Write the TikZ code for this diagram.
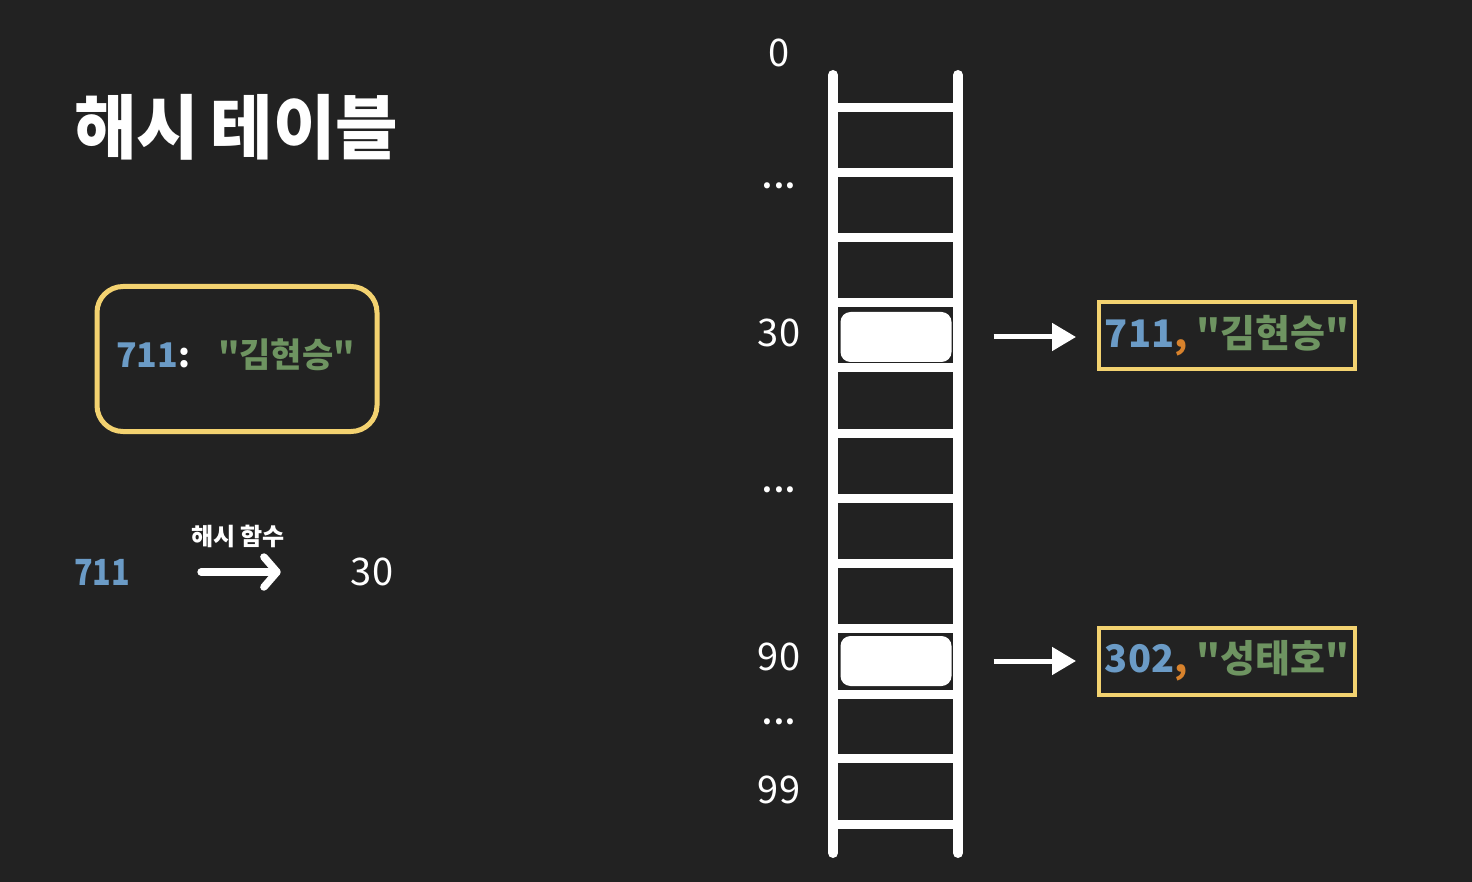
\documentclass[tikz,border=0pt]{standalone}
\usepackage{fontspec}
\setmainfont{Noto Sans CJK KR}[Ligatures=TeXOff]
\usetikzlibrary{arrows.meta}
\definecolor{bg}{HTML}{222222}
\definecolor{kblue}{HTML}{6B9BC6}
\definecolor{kgreen}{HTML}{6E9461}
\definecolor{korange}{HTML}{D8822C}
\definecolor{kyellow}{HTML}{F3D270}
\tikzset{
  lbl/.style={text=white, font=\fontsize{38}{40}\selectfont, inner sep=0pt, anchor=center},
  dots/.style={text=white, font=\bfseries\fontsize{28}{30}\selectfont, inner sep=0pt, anchor=center},
  rail/.style={white, line width=10pt, line cap=round},
  rung/.style={white, line width=9pt},
  slot/.style={fill=white, rounded corners=10pt, minimum width=111pt, minimum height=50pt, inner sep=0pt},
  entry/.style={draw=kyellow, line width=4pt, minimum width=256pt, minimum height=67pt, inner sep=0pt, font=\bfseries\fontsize{38}{40}\selectfont},
  ptr/.style={white, line width=5pt, -{Triangle[length=24pt,width=27pt]}},
}
\begin{document}
\begin{tikzpicture}[x=1pt,y=-1pt]
\fill[bg] (0,0) rectangle (1472,882);
\useasboundingbox (0,0) rectangle (1472,882);
% title
\node[text=white, font=\bfseries\fontsize{70}{74}\selectfont, inner sep=0pt, anchor=west, xscale=0.97] (title) at (74,127) {해시\hspace{-4pt} 테이블};
% key-value box
\node[draw=kyellow, line width=5pt, rounded corners=26pt, minimum width=280pt, minimum height=145pt, inner sep=0pt] (kv) at (237,359) {};
\node[inner sep=0pt, anchor=west, font=\bfseries\fontsize{34}{36}\selectfont] (kvt) at (116,355) {\textcolor{kblue}{711}\textcolor{white}{:}\hspace{28pt}\textcolor{kgreen}{"김현승"}};
% hash function
\node[inner sep=0pt, text=kblue, font=\bfseries\fontsize{36}{40}\selectfont, xscale=0.85] (k711) at (102,572) {711};
\node[lbl] (h30) at (372,572) {30};
\node[text=white, inner sep=0pt, font=\bfseries\fontsize{24}{26}\selectfont] (hf) at (238,536) {해시 함수};
\draw[white, line width=7.5pt, line cap=round, -{Straight Barb[length=13pt,width=30pt,round]}, shorten <=71pt, shorten >=70pt] (k711.east) -- (h30.west);
% ladder
\draw[rail] (833,75) coordinate (lt) -- (833,853) coordinate (lb);
\draw[rail] (958,75) coordinate (rt) -- (958,853) coordinate (rb);
\foreach \y in {108,173,238,303,368,433,498,563,628,694,758,824}
  \draw[rung] (833,\y) -- (958,\y);
\node[slot] (s30) at (896,337) {};
\node[slot] (s90) at (896,661) {};
% index labels
\node[lbl] (i0) at (779,53) {0};
\node[dots] (d1) at (779,186) {.\kern2pt.\kern2pt.};
\node[lbl] (i30) at (779,333) {30};
\node[dots] (d2) at (779,490) {.\kern2pt.\kern2pt.};
\node[lbl] (i90) at (779,657) {90};
\node[dots] (d3) at (779,722) {.\kern2pt.\kern2pt.};
\node[lbl] (i99) at (779,790) {99};
% entries
\node[entry] (e1) at (1227,336) {\textcolor{kblue}{711}\textcolor{korange}{,} \textcolor{kgreen}{"김현승"}};
\node[entry] (e2) at (1227,661) {\textcolor{kblue}{302}\textcolor{korange}{,} \textcolor{kgreen}{"성태호"}};
\draw[ptr, shorten <=42pt, shorten >=21pt] (s30.east) -- (e1.west |- s30.east);
\draw[ptr, shorten <=42pt, shorten >=21pt] (s90.east) -- (e2.west |- s90.east);
\end{tikzpicture}
\end{document}
